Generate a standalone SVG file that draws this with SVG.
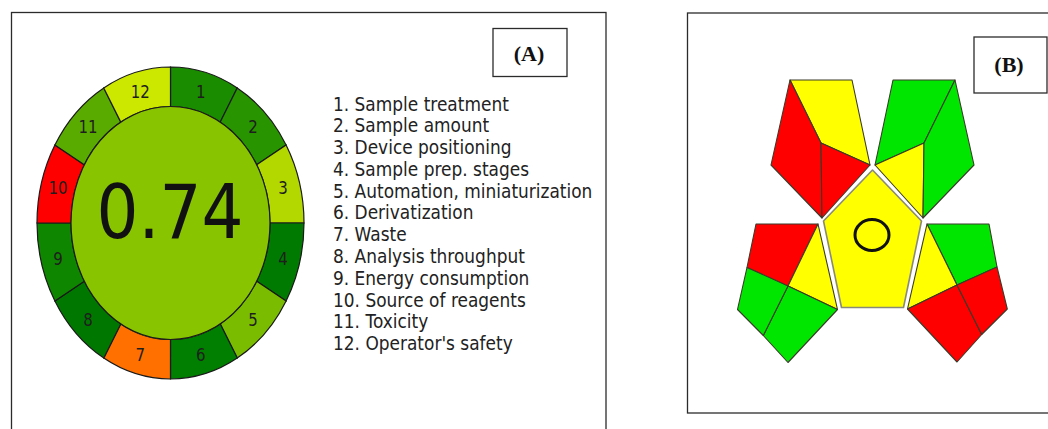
<svg xmlns="http://www.w3.org/2000/svg" width="1048" height="429" viewBox="0 0 1048 429">
<style>
.frame{fill:none;stroke:#2b2b2b;stroke-width:1.3}
.seg{stroke:#1a1a1a;stroke-width:1.2}
.lab{font-family:"DejaVu Sans",sans-serif;font-size:15px;fill:#1e1e1e;text-anchor:middle}
.lst{font-family:"DejaVu Sans",sans-serif;font-size:17px;fill:#222}
.big{font-family:"DejaVu Sans",sans-serif;font-size:66px;fill:#111;text-anchor:middle}
.tag{font-family:"Liberation Serif",serif;font-weight:bold;font-size:22px;fill:#111;text-anchor:middle}
.p{stroke:#3a3a2a;stroke-width:1.1;stroke-linejoin:round}
.r{fill:#ff0000}.y{fill:#ffff00}.g{fill:#00e600}
</style>
<rect class="frame" x="11.5" y="12.5" width="594.5" height="440"/>
<rect class="frame" x="687.5" y="13" width="420" height="400"/>
<g id="tagA"><rect class="frame" x="493" y="28.5" width="74" height="48"/><text class="tag" x="529" y="61">(A)</text></g>
<g id="tagB"><rect class="frame" x="974" y="37" width="73" height="56"/><text class="tag" x="1009" y="72">(B)</text></g>
<g id="wheel">
<path id="s1" class="seg" fill="#1a8c00" d="M170.5,67 A133.5,156 0 0 1 237.25,87.9 L220.25,122.1 A99.5,116.5 0 0 0 170.5,106.5 Z"/>
<path id="s2" class="seg" fill="#279400" d="M237.25,87.9 A133.5,156 0 0 1 286.1,145 L256.7,164.75 A99.5,116.5 0 0 0 220.25,122.1 Z"/>
<path id="s3" class="seg" fill="#b2d800" d="M286.1,145 A133.5,156 0 0 1 304,223 L270,223 A99.5,116.5 0 0 0 256.7,164.75 Z"/>
<path id="s4" class="seg" fill="#007a00" d="M304,223 A133.5,156 0 0 1 286.1,301 L256.7,281.25 A99.5,116.5 0 0 0 270,223 Z"/>
<path id="s5" class="seg" fill="#7abd00" d="M286.1,301 A133.5,156 0 0 1 237.25,358.1 L220.25,323.9 A99.5,116.5 0 0 0 256.7,281.25 Z"/>
<path id="s6" class="seg" fill="#007f00" d="M237.25,358.1 A133.5,156 0 0 1 170.5,379 L170.5,339.5 A99.5,116.5 0 0 0 220.25,323.9 Z"/>
<path id="s7" class="seg" fill="#ff7000" d="M170.5,379 A133.5,156 0 0 1 103.75,358.1 L120.75,323.9 A99.5,116.5 0 0 0 170.5,339.5 Z"/>
<path id="s8" class="seg" fill="#007800" d="M103.75,358.1 A133.5,156 0 0 1 54.9,301 L84.3,281.25 A99.5,116.5 0 0 0 120.75,323.9 Z"/>
<path id="s9" class="seg" fill="#0e8600" d="M54.9,301 A133.5,156 0 0 1 37,223 L71,223 A99.5,116.5 0 0 0 84.3,281.25 Z"/>
<path id="s10" class="seg" fill="#ff0000" d="M37,223 A133.5,156 0 0 1 54.9,145 L84.3,164.75 A99.5,116.5 0 0 0 71,223 Z"/>
<path id="s11" class="seg" fill="#5aab00" d="M54.9,145 A133.5,156 0 0 1 103.75,87.9 L120.75,122.1 A99.5,116.5 0 0 0 84.3,164.75 Z"/>
<path id="s12" class="seg" fill="#cce800" d="M103.75,87.9 A133.5,156 0 0 1 170.5,67 L170.5,106.5 A99.5,116.5 0 0 0 120.75,122.1 Z"/>
<ellipse id="core" class="seg" fill="#88c400" cx="170.5" cy="223" rx="99.5" ry="116.5"/>
<text class="big" transform="translate(170,238) scale(1,1.12)">0.74</text>
<text class="lab" dy="0.36em" transform="translate(200.65,91.4) scale(1,1.15)">1</text>
<text class="lab" dy="0.36em" transform="translate(252.9,126.7) scale(1,1.15)">2</text>
<text class="lab" dy="0.36em" transform="translate(283,187.7) scale(1,1.15)">3</text>
<text class="lab" dy="0.36em" transform="translate(283,258.3) scale(1,1.15)">4</text>
<text class="lab" dy="0.36em" transform="translate(252.9,319.3) scale(1,1.15)">5</text>
<text class="lab" dy="0.36em" transform="translate(200.65,354.6) scale(1,1.15)">6</text>
<text class="lab" dy="0.36em" transform="translate(140.35,354.6) scale(1,1.15)">7</text>
<text class="lab" dy="0.36em" transform="translate(88.1,319.3) scale(1,1.15)">8</text>
<text class="lab" dy="0.36em" transform="translate(58,258.3) scale(1,1.15)">9</text>
<text class="lab" dy="0.36em" transform="translate(58,187.7) scale(1,1.15)">10</text>
<text class="lab" dy="0.36em" transform="translate(88.1,126.7) scale(1,1.15)">11</text>
<text class="lab" dy="0.36em" transform="translate(140.35,91.4) scale(1,1.15)">12</text>
</g>
<g id="legend" class="lst" transform="translate(333,0) scale(1,1.15)">
<text y="96.09">1. Sample treatment</text>
<text y="115.04">2. Sample amount</text>
<text y="134">3. Device positioning</text>
<text y="152.96">4. Sample prep. stages</text>
<text y="171.91">5. Automation, miniaturization</text>
<text y="190.87">6. Derivatization</text>
<text y="209.83">7. Waste</text>
<text y="228.78">8. Analysis throughput</text>
<text y="247.74">9. Energy consumption</text>
<text y="266.7">10. Source of reagents</text>
<text y="285.65">11. Toxicity</text>
<text y="304.61">12. Operator's safety</text>
</g>
<g id="penta-tl">
<polygon class="p y" points="790,80 852,80 870,165 821,143"/>
<polygon class="p r" points="790,80 821,143 822,218 771,165"/>
<polygon class="p r" points="821,143 870,165 822,218"/>
</g>
<g id="penta-tr">
<polygon class="p g" points="893,80 955,80 924,143 875,165"/>
<polygon class="p y" points="875,165 924,143 923,218"/>
<polygon class="p g" points="955,80 974,165 923,218 924,143"/>
</g>
<g id="penta-bl">
<polygon class="p r" points="756,224 818,224 788,286 747,267.5"/>
<polygon class="p y" points="818,224 837.5,309.5 788,286"/>
<polygon class="p g" points="788,286 837.5,309.5 788,362.5 763.3,335.5"/>
<polygon class="p g" points="747,267.5 788,286 763.3,335.5 737.5,309.5"/>
</g>
<g id="penta-br">
<polygon class="p g" points="927,224 989,224 997,267 957,285"/>
<polygon class="p y" points="927,224 957,285 907.5,309"/>
<polygon class="p r" points="907.5,309 957,285 981.7,334.5 957,362"/>
<polygon class="p r" points="957,285 997,267 1007.3,309 981.7,334.5"/>
</g>
<g id="penta-center">
<polygon points="872.5,170 921.5,221 903.5,307.5 841.5,307.5 823.5,221" fill="#ffff00" stroke="#8a8a78" stroke-width="1.6" stroke-linejoin="round"/>
<ellipse cx="872" cy="235" rx="17" ry="15.5" fill="none" stroke="#111" stroke-width="3"/>
</g>
</svg>
